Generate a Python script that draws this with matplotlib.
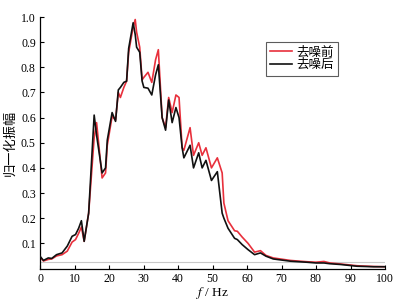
import matplotlib
matplotlib.use("Agg")
import matplotlib.pyplot as plt

plt.rcParams['font.family'] = ['Liberation Serif', 'Noto Sans CJK SC']
plt.rcParams['mathtext.fontset'] = 'stix'

freq = [0, 1, 2.4, 3.4, 4.8, 6.4, 7.9, 9.3, 10.3, 11.2, 12.0, 12.8, 14.1, 15.7, 16.4,
        18.0, 19.0, 19.5, 20.9, 21.9, 22.7, 23.3, 24.3, 25.1, 25.7, 27.0, 27.6, 28.0,
        28.9, 29.6, 30.1, 31.3, 32.4, 33.5, 34.3, 35.4, 36.4, 37.3, 38.3, 39.4, 40.3,
        41.2, 41.7, 43.5, 44.5, 46.0, 47.0, 48.1, 49.7, 51.4, 52.8, 53.3, 54.5, 56.4,
        57.2, 58.6, 60.3, 62.2, 63.9, 65.5, 67.6, 72.6, 77.3, 80, 82.3, 84, 87.1, 91.9,
        96.7, 100]

before = [0.045, 0.030, 0.036, 0.038, 0.050, 0.055, 0.069, 0.105, 0.115, 0.140, 0.165,
          0.108, 0.220, 0.520, 0.580, 0.360, 0.380, 0.490, 0.605, 0.590, 0.700, 0.680,
          0.720, 0.745, 0.860, 0.960, 0.990, 0.940, 0.880, 0.750, 0.760, 0.780, 0.740,
          0.830, 0.870, 0.600, 0.560, 0.680, 0.620, 0.690, 0.680, 0.480, 0.470, 0.560,
          0.450, 0.500, 0.450, 0.480, 0.400, 0.440, 0.380, 0.260, 0.190, 0.150, 0.148,
          0.125, 0.100, 0.065, 0.071, 0.052, 0.042, 0.032, 0.027, 0.025, 0.028, 0.022,
          0.018, 0.011, 0.008, 0.007]

after = [0.049, 0.032, 0.042, 0.040, 0.055, 0.062, 0.089, 0.128, 0.135, 0.160, 0.190,
         0.108, 0.220, 0.610, 0.530, 0.380, 0.400, 0.510, 0.620, 0.585, 0.710, 0.720,
         0.740, 0.745, 0.875, 0.977, 0.930, 0.880, 0.860, 0.745, 0.720, 0.717, 0.690,
         0.770, 0.810, 0.600, 0.550, 0.670, 0.580, 0.640, 0.600, 0.480, 0.440, 0.490,
         0.400, 0.460, 0.400, 0.430, 0.350, 0.385, 0.220, 0.200, 0.160, 0.120, 0.115,
         0.095, 0.075, 0.055, 0.062, 0.049, 0.038, 0.029, 0.025, 0.022, 0.022, 0.019,
         0.016, 0.009, 0.007, 0.007]

labels = ['去噪前', '去噪后']
xticks = [0, 10, 20, 30, 40, 50, 60, 70, 80, 90, 100]
yticks = [0.1, 0.2, 0.3, 0.4, 0.5, 0.6, 0.7, 0.8, 0.9, 1.0]
ref_level = 0.025

fig = plt.figure(figsize=(4.05, 3.01), dpi=100)
ax = fig.add_axes([40/405, 1 - 268.5/301, 345/405, (268.5 - 17)/301])

ax.axhline(ref_level, color='#c8c8c8', lw=0.8, zorder=1)
ax.plot(freq, before, color='#e8303c', lw=1.2, label=labels[0], zorder=2)
ax.plot(freq, after, color='#111111', lw=1.2, label=labels[1], zorder=3)

ax.set_xlim(0, 100)
ax.set_ylim(0, 1.0)
ax.set_xticks(xticks)
ax.set_yticks(yticks)
ax.set_yticklabels([f'{v:.1f}' for v in yticks])
ax.tick_params(direction='in', length=3, width=0.8, labelsize=8.5, pad=3)
for s in ['top', 'right']:
    ax.spines[s].set_visible(False)
for s in ['left', 'bottom']:
    ax.spines[s].set_linewidth(0.9)

ax.set_xlabel('$f$ / Hz', fontsize=9.5, labelpad=0.5)
ax.set_ylabel('归一化振幅', fontsize=9.5, labelpad=3)

leg = ax.legend(loc='upper left', bbox_to_anchor=(0.655, 0.90), borderaxespad=0,
                fontsize=9, frameon=True, fancybox=False, edgecolor='#333333',
                handlelength=1.7, handletextpad=0.4, labelspacing=0.05,
                borderpad=0.35)
leg.get_frame().set_linewidth(0.8)

fig.savefig('out.png', dpi=100)
